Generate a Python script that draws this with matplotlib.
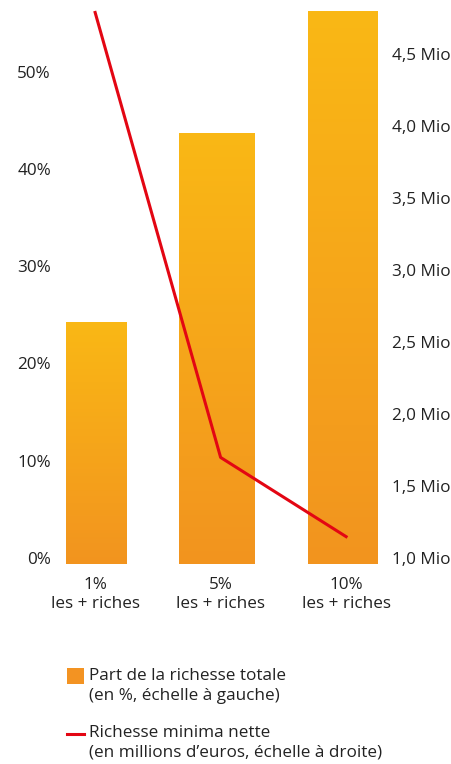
import numpy as np
import matplotlib
matplotlib.use("Agg")
import matplotlib.pyplot as plt
from matplotlib.colors import LinearSegmentedColormap
from matplotlib.patches import Rectangle
from matplotlib.lines import Line2D

# data
groups = ["1%\nles + riches", "5%\nles + riches", "10%\nles + riches"]
part_richesse = [24.9, 44.3, 56.8]          # % of total wealth (left axis)
richesse_min = [4.83, 1.74, 1.19]           # million euros (right axis)
left_ticks = [0, 10, 20, 30, 40, 50]
left_labels = ["0%", "10%", "20%", "30%", "40%", "50%"]
right_ticks = [1.0, 1.5, 2.0, 2.5, 3.0, 3.5, 4.0, 4.5]
right_labels = ["1,0 Mio", "1,5 Mio", "2,0 Mio", "2,5 Mio", "3,0 Mio", "3,5 Mio", "4,0 Mio", "4,5 Mio"]

# bar geometry (as drawn in the original)
bar_offsets = [0.01, -0.03, -0.03]
bar_widths = [0.48, 0.60, 0.55]

plt.rcParams["font.family"] = ["Open Sans", "DejaVu Sans"]
txt_color = "#222222"
top_col = "#FAB815"
bot_col = "#F2941F"
red = "#E30613"
fs = 12.3

W, H = 452, 764
fig = plt.figure(figsize=(W / 100, H / 100), dpi=100)
ax = fig.add_axes([60 / W, (H - 564) / H, 325 / W, 564 / H])

x = np.arange(len(groups))
bars = ax.bar(x + np.array(bar_offsets), part_richesse, width=bar_widths, color="none", zorder=1)

cmap = LinearSegmentedColormap.from_list("grad", [bot_col, top_col])
grad = np.linspace(0, 1, 256).reshape(-1, 1)
for b in bars:
    x0, y0 = b.get_x(), b.get_y()
    im = ax.imshow(grad, extent=[x0, x0 + b.get_width(), y0, y0 + b.get_height()],
                   origin="lower", cmap=cmap, aspect="auto", zorder=1)
    im.set_clip_path(b)

ax.set_xlim(-0.28, 2.31)
ax.set_ylim(0, 57.97)
ax.set_yticks(left_ticks)
ax.set_yticklabels(left_labels, fontsize=fs, color=txt_color)
for lbl in ax.get_yticklabels():
    lbl.set_va("baseline")
ax.set_xticks(x)
ax.set_xticklabels(groups, fontsize=fs, color=txt_color, linespacing=1.25)
ax.tick_params(axis="y", length=0, pad=6.5)
ax.tick_params(axis="x", length=0, pad=9.5)
for s in ax.spines.values():
    s.set_visible(False)

ax2 = ax.twinx()
ax2.plot(x, richesse_min, color=red, lw=2.2, zorder=3)
ax2.set_ylim(1.0, 1.0 + 564 / 144)
ax2.set_yticks(right_ticks)
ax2.set_yticklabels(right_labels, fontsize=fs, color=txt_color)
for lbl in ax2.get_yticklabels():
    lbl.set_va("baseline")
ax2.tick_params(axis="y", length=0, pad=5)
for s in ax2.spines.values():
    s.set_visible(False)

# legend drawn by hand
fig.patches.append(Rectangle((67 / W, 1 - 684 / H), 17 / W, 16 / H, transform=fig.transFigure,
                             facecolor="#F39322", edgecolor="none"))
fig.lines.append(Line2D([67 / W, 84 / W], [1 - 734 / H, 1 - 734 / H], transform=fig.transFigure,
                        color=red, lw=2.2))
fig.text(89 / W, 1 - 686 / H, "Part de la richesse totale\n(en %, échelle à gauche)",
         fontsize=fs, color=txt_color, va="center", ha="left", linespacing=1.3)
fig.text(89 / W, 1 - 742.5 / H, "Richesse minima nette\n(en millions d\u2019euros, échelle à droite)",
         fontsize=fs, color=txt_color, va="center", ha="left", linespacing=1.3)

fig.savefig("out.png", dpi=100)
